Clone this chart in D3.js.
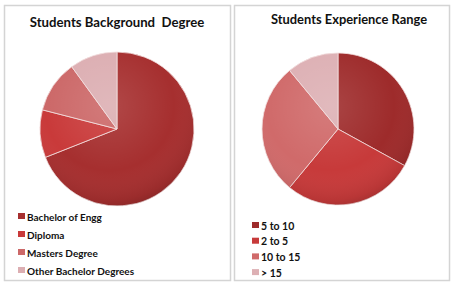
<!DOCTYPE html>
<html>
<head>
<meta charset="utf-8">
<script src="https://cdn.jsdelivr.net/npm/d3@7"></script>
<style>
  body { margin: 0; background: #fff; }
  svg { display: block; }
  text { font-family: Lato, "Open Sans", sans-serif; fill: #111; white-space: pre; }
</style>
</head>
<body>
<svg id="chart" width="454" height="286"></svg>
<script>
// degree chart
const degree_labels = ['Bachelor of Engg', 'Diploma', 'Masters Degree', 'Other Bachelor Degrees'];
const degree_values = [69, 10, 11, 10];
const degree_colors = ['#a62f2f', '#c93a3a', '#cc6868', '#dcaeb2'];

// experience chart
const exp_labels = ['5 to 10', '2 to 5', '10 to 15', '> 15'];
const exp_values = [33, 28, 28, 11];
const exp_colors = ['#9e2b2b', '#c73a3a', '#d06a6a', '#ddb0b4'];

const svg = d3.select('#chart');
const defs = svg.append('defs');

// shading to fake the 3d bevel look
const shade = defs.append('radialGradient')
    .attr('id', 'shade')
    .attr('cx', '45%').attr('cy', '35%').attr('r', '70%');
shade.append('stop').attr('offset', '0%').attr('stop-color', '#fff').attr('stop-opacity', 0.12);
shade.append('stop').attr('offset', '60%').attr('stop-color', '#fff').attr('stop-opacity', 0);
shade.append('stop').attr('offset', '88%').attr('stop-color', '#000').attr('stop-opacity', 0.07);
shade.append('stop').attr('offset', '100%').attr('stop-color', '#000').attr('stop-opacity', 0.22);

const panels = [
    { x: 4, y: 5, w: 226, h: 275, title: 'Students Background  Degree', titleX: 117, titleY: 27, titleSize: 13.2,
      cx: 117, cy: 129, r: 77, labels: degree_labels, values: degree_values, colors: degree_colors,
      legX: 18, legY: 217, legStep: 18, legSize: 10 },
    { x: 234, y: 5, w: 215, h: 275, title: 'Students Experience Range', titleX: 349, titleY: 24, titleSize: 12.9,
      cx: 338, cy: 129, r: 76, labels: exp_labels, values: exp_values, colors: exp_colors,
      legX: 252, legY: 226, legStep: 15.7, legSize: 10.5 }
];

panels.forEach(p => {
    // panel frame
    svg.append('rect')
        .attr('x', p.x + 0.5).attr('y', p.y + 0.5)
        .attr('width', p.w).attr('height', p.h)
        .attr('fill', '#fff')
        .attr('stroke', '#d4d4d4').attr('stroke-width', 1.5);

    svg.append('text')
        .attr('x', p.titleX).attr('y', p.titleY)
        .attr('text-anchor', 'middle')
        .attr('font-weight', 'bold')
        .attr('font-size', p.titleSize)
        .text(p.title);

    const pie = d3.pie().sort(null)(p.values);
    const arc = d3.arc().innerRadius(0).outerRadius(p.r);

    const g = svg.append('g').attr('transform', `translate(${p.cx},${p.cy})`);
    g.selectAll('path.slice')
        .data(pie)
        .enter().append('path')
        .attr('class', 'slice')
        .attr('d', arc)
        .attr('fill', (d, i) => p.colors[i])
        .attr('stroke', '#f3dede')
        .attr('stroke-width', 0.8);

    g.append('circle')
        .attr('r', p.r)
        .attr('fill', 'url(#shade)')
        .attr('pointer-events', 'none');

    // legend
    const leg = svg.append('g');
    p.labels.forEach((lab, i) => {
        const y = p.legY + i * p.legStep;
        leg.append('rect')
            .attr('x', p.legX).attr('y', y - 4)
            .attr('width', 7).attr('height', 6)
            .attr('fill', p.colors[i]);
        leg.append('text')
            .attr('x', p.legX + 9).attr('y', y + 3.5)
            .attr('font-size', p.legSize)
            .attr('font-weight', 'bold')
            .text(lab);
    });
});
</script>
</body>
</html>
